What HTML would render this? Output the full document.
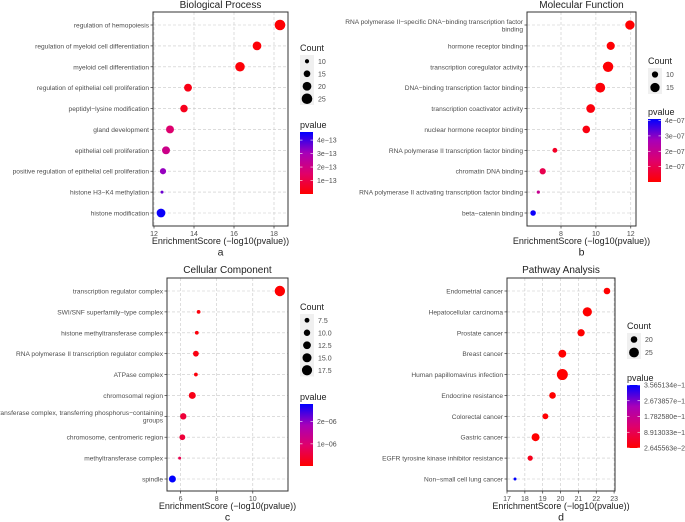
<!DOCTYPE html>
<html><head><meta charset="utf-8">
<style>
body{margin:0;background:#fff;}
svg{display:block;font-family:"Liberation Sans",sans-serif;}
</style></head>
<body>
<svg id="fig" width="685" height="522" viewBox="0 0 685 522" xmlns="http://www.w3.org/2000/svg">
<defs>
<linearGradient id="pg" x1="0" y1="1" x2="0" y2="0">
<stop offset="0" stop-color="#FF0000"/><stop offset="0.33" stop-color="#E0006A"/><stop offset="0.66" stop-color="#A800B8"/><stop offset="1" stop-color="#0000FF"/>
</linearGradient>
</defs>
</svg>
<script>
// Panel a: Biological Process
const aTerms=["regulation of hemopoiesis","regulation of myeloid cell differentiation","myeloid cell differentiation","regulation of epithelial cell proliferation","peptidyl\u2212lysine modification","gland development","epithelial cell proliferation","positive regulation of epithelial cell proliferation","histone H3\u2212K4 methylation","histone modification"];
const aScore=[18.3,17.15,16.3,13.7,13.5,12.8,12.6,12.45,12.4,12.35];
const aCount=[25,20,22,18,17,18,18,14,8,20];
const aPval=[0.05e-13,0.1e-13,0.1e-13,0.3e-13,0.4e-13,1.6e-13,2.1e-13,3.2e-13,3.6e-13,4.5e-13];
const aXTicks=[12,14,16,18];
const aCountTicks=[10,15,20,25];
const aPTicks=[1e-13,2e-13,3e-13,4e-13];
const aPTickLabels=["1e\u221213","2e\u221213","3e\u221213","4e\u221213"];
// Panel b: Molecular Function
const bTerms=[["RNA polymerase II\u2212specific DNA\u2212binding transcription factor","binding"],"hormone receptor binding","transcription coregulator activity","DNA\u2212binding transcription factor binding","transcription coactivator activity","nuclear hormone receptor binding","RNA polymerase II transcription factor binding","chromatin DNA binding","RNA polymerase II activating transcription factor binding","beta\u2212catenin binding"];
const bScore=[11.95,10.85,10.7,10.25,9.7,9.45,7.65,6.95,6.7,6.4];
const bCount=[15,13,17,16,14,12,8,10,6,9];
const bPval=[0.01e-7,0.05e-7,0.05e-7,0.1e-7,0.15e-7,0.2e-7,0.5e-7,1.0e-7,2.0e-7,4.0e-7];
const bXTicks=[8,10,12];
const bCountTicks=[10,15];
const bPTicks=[1e-7,2e-7,3e-7,4e-7];
const bPTickLabels=["1e\u221207","2e\u221207","3e\u221207","4e\u221207"];
// Panel c: Cellular Component
const cTerms=["transcription regulator complex","SWI/SNF superfamily\u2212type complex","histone methyltransferase complex","RNA polymerase II transcription regulator complex","ATPase complex","chromosomal region",["transferase complex, transferring phosphorus\u2212containing","groups"],"chromosome, centromeric region","methyltransferase complex","spindle"];
const cScore=[11.5,7.0,6.9,6.85,6.85,6.65,6.15,6.1,5.95,5.55];
const cCount=[18,6,6,9,6,11,10,9,5,11];
const cPval=[0.01e-6,0.1e-6,0.1e-6,0.15e-6,0.1e-6,0.2e-6,0.5e-6,0.5e-6,0.7e-6,2.8e-6];
const cXTicks=[6,8,10];
const cCountTicks=[7.5,10,12.5,15,17.5];
const cCountLabels=["7.5","10.0","12.5","15.0","17.5"];
const cPTicks=[1e-6,2e-6];
const cPTickLabels=["1e\u221206","2e\u221206"];
// Panel d: Pathway Analysis
const dTerms=["Endometrial cancer","Hepatocellular carcinoma","Prostate cancer","Breast cancer","Human papillomavirus infection","Endocrine resistance","Colorectal cancer","Gastric cancer","EGFR tyrosine kinase inhibitor resistance","Non\u2212small cell lung cancer"];
const dScore=[22.6,21.5,21.15,20.1,20.1,19.55,19.15,18.6,18.3,17.45];
const dCount=[20,24,21,22,27,20,19,22,18,15];
const dPval=[2.6e-23,1e-22,1e-22,1e-21,1e-22,1e-21,1e-20,1e-21,3e-19,3.565134e-18];
const dXTicks=[17,18,19,20,21,22,23];
const dCountTicks=[20,25];
const dPTicks=[2.645563e-23,8.913033e-19,1.782580e-18,2.673857e-18,3.565134e-18];
const dPTickLabels=["2.645563e\u221223","8.913033e\u221219","1.782580e\u221218","2.673857e\u221218","3.565134e\u221218"];

const NS="http://www.w3.org/2000/svg";
const svg=document.getElementById('fig');
function mk(tag,attrs,parent,txt){const e=document.createElementNS(NS,tag);for(const k in attrs)e.setAttribute(k,attrs[k]);if(txt!==undefined)e.textContent=txt;(parent||svg).appendChild(e);return e;}
function lerp(a,b,t){return a+(b-a)*t;}
const stops=[[0,[255,0,0]],[0.33,[224,0,106]],[0.66,[168,0,184]],[1,[0,0,255]]];
function colorAt(t){t=Math.max(0,Math.min(1,t));for(let i=1;i<stops.length;i++){if(t<=stops[i][0]){const u=(t-stops[i-1][0])/(stops[i][0]-stops[i-1][0]);const c=stops[i-1][1].map((v,j)=>Math.round(lerp(v,stops[i][1][j],u)));return `rgb(${c})`;}}return 'rgb(0,0,255)';}

function panel(P){
  const g=mk('g',{});
  
  
  const xs=v=>P.x0+(v-P.xmin)/(P.xmax-P.xmin)*(P.x1-P.x0);
  const n=P.terms.length;
  const ys=i=>P.yFirst+i*(P.yLast-P.yFirst)/(n-1);
  const cmin=P.cmin, cmax=P.cmax;
  const rs=c=>P.rmin+(Math.sqrt(c)-Math.sqrt(cmin))/(Math.sqrt(cmax)-Math.sqrt(cmin))*(P.rmax-P.rmin);
  const pt=p=>(p-P.pmin)/(P.pmax-P.pmin);
  const t=mk('text',{x:(P.x0+P.x1)/2,y:P.titleY,'text-anchor':'middle','font-size':10,fill:'#222'},g,P.title);
  
  P.xTicks.forEach(v=>{const l=mk('line',{x1:xs(v),x2:xs(v),y1:P.y0,y2:P.y1,stroke:'#c8c8c8','stroke-width':0.6,'stroke-dasharray':'3,2'},g);});
  P.terms.forEach((s,i)=>{const l=mk('line',{x1:P.x0,x2:P.x1,y1:ys(i),y2:ys(i),stroke:'#c8c8c8','stroke-width':0.6,'stroke-dasharray':'3,2'},g);});
  const b=mk('rect',{x:P.x0,y:P.y0,width:P.x1-P.x0,height:P.y1-P.y0,fill:'none',stroke:'#333','stroke-width':1},g);
  
  P.xTicks.forEach(v=>{mk('line',{x1:xs(v),x2:xs(v),y1:P.y1,y2:P.y1+2.5,stroke:'#333','stroke-width':0.7},g);
    const tl=mk('text',{x:xs(v),y:P.y1+10,'text-anchor':'middle','font-size':7,fill:'#4d4d4d'},g,String(v));
    });
  const xt=mk('text',{x:(P.x0+P.x1)/2,y:P.y1+18,'text-anchor':'middle','font-size':9,fill:'#222'},g,'EnrichmentScore (\u2212log10(pvalue))');
  
  const pl=mk('text',{x:(P.x0+P.x1)/2,y:P.y1+29.5,'text-anchor':'middle','font-size':10.5,fill:'#222'},g,P.letter);
  
  P.terms.forEach((s,i)=>{mk('line',{x1:P.x0-2.5,x2:P.x0,y1:ys(i),y2:ys(i),stroke:'#333','stroke-width':0.7},g);
    const lines=Array.isArray(s)?s:[s];
    const tx=mk('text',{x:P.x0-4,y:ys(i)+2.5-(lines.length-1)*3.75,'text-anchor':'end','font-size':6.6,fill:'#4d4d4d'},g);
    
    lines.forEach((ln,k)=>{mk('tspan',{x:P.x0-4,dy:k?7.5:0,'text-anchor':'end'},tx,ln);});
  });
  P.terms.forEach((s,i)=>{const c=mk('circle',{cx:xs(P.score[i]),cy:ys(i),r:rs(P.count[i]),fill:colorAt(pt(P.pval[i]))},g);
    });
  const ct=mk('text',{x:P.lx,y:P.countY,'font-size':9,fill:'#222'},g,'Count');
  
  const kh=P.countStep;
  mk('rect',{x:P.lx,y:P.countY+4,width:14,height:kh*P.countTicks.length,fill:'#f0f0f0'},g);
  P.countTicks.forEach((v,k)=>{const cy=P.countY+4+kh*(k+0.5);
    const c=mk('circle',{cx:P.lx+7,cy:cy,r:rs(v),fill:'#000'},g);
    const l=mk('text',{x:P.lx+18,y:cy+2.5,'font-size':7,fill:'#4d4d4d'},g,P.countLabels?P.countLabels[k]:String(v));});
  const ptl=mk('text',{x:P.lx,y:P.pY,'font-size':9,fill:'#222'},g,'pvalue');
  
  const cb=mk('rect',{x:P.lx,y:P.cbTop,width:13,height:P.cbBot-P.cbTop,fill:'url(#pg)'},g);
  
  P.pTicks.forEach((v,k)=>{const y=P.cbBot-pt(v)*(P.cbBot-P.cbTop);
    mk('line',{x1:P.lx,x2:P.lx+2.5,y1:y,y2:y,stroke:'#fff','stroke-width':0.6},g);
    mk('line',{x1:P.lx+10.5,x2:P.lx+13,y1:y,y2:y,stroke:'#fff','stroke-width':0.6},g);
    const l=mk('text',{x:P.lx+17,y:y+2.5,'font-size':7,fill:'#4d4d4d'},g,P.pTickLabels[k]);
    });
}

panel({name:'biological-process-panel',title:'Biological Process',letter:'a',terms:aTerms,score:aScore,count:aCount,pval:aPval,
  x0:153,x1:288,y0:12,y1:226,xmin:11.95,xmax:18.7,yFirst:25,yLast:213,titleY:8,xTicks:aXTicks,
  cmin:8,cmax:25,rmin:1.5,rmax:5.3,pmin:0,pmax:4.6e-13,
  lx:300,countY:51,countStep:12.5,countTicks:aCountTicks,pY:128,cbTop:132,cbBot:194,pTicks:aPTicks,pTickLabels:aPTickLabels});
panel({name:'molecular-function-panel',title:'Molecular Function',letter:'b',terms:bTerms,score:bScore,count:bCount,pval:bPval,
  x0:527,x1:636,y0:12,y1:226,xmin:6.05,xmax:12.3,yFirst:25,yLast:213,titleY:8,xTicks:bXTicks,
  cmin:6,cmax:17,rmin:1.6,rmax:5.2,pmin:0,pmax:4.1e-7,
  lx:648,countY:64,countStep:13,countTicks:bCountTicks,pY:115,cbTop:119,cbBot:182,pTicks:bPTicks,pTickLabels:bPTickLabels});
panel({name:'cellular-component-panel',title:'Cellular Component',letter:'c',terms:cTerms,score:cScore,count:cCount,pval:cPval,
  x0:167,x1:288,y0:278,y1:491,xmin:5.25,xmax:11.95,yFirst:291,yLast:479,titleY:273,xTicks:cXTicks,
  cmin:5,cmax:18,rmin:1.5,rmax:5.2,pmin:0,pmax:2.8e-6,
  lx:300,countY:310,countStep:12.5,countTicks:cCountTicks,countLabels:cCountLabels,pY:400,cbTop:404,cbBot:466,pTicks:cPTicks,pTickLabels:cPTickLabels});
panel({name:'pathway-analysis-panel',title:'Pathway Analysis',letter:'d',terms:dTerms,score:dScore,count:dCount,pval:dPval,
  x0:507,x1:615,y0:278,y1:491,xmin:17,xmax:23.05,yFirst:291,yLast:479,titleY:273,xTicks:dXTicks,
  cmin:15,cmax:27,rmin:1.5,rmax:5.5,pmin:2.645563e-23,pmax:3.565134e-18,
  lx:627,countY:329,countStep:13,countTicks:dCountTicks,pY:381,cbTop:385,cbBot:448,pTicks:dPTicks,pTickLabels:dPTickLabels});
</script>
</body></html>
